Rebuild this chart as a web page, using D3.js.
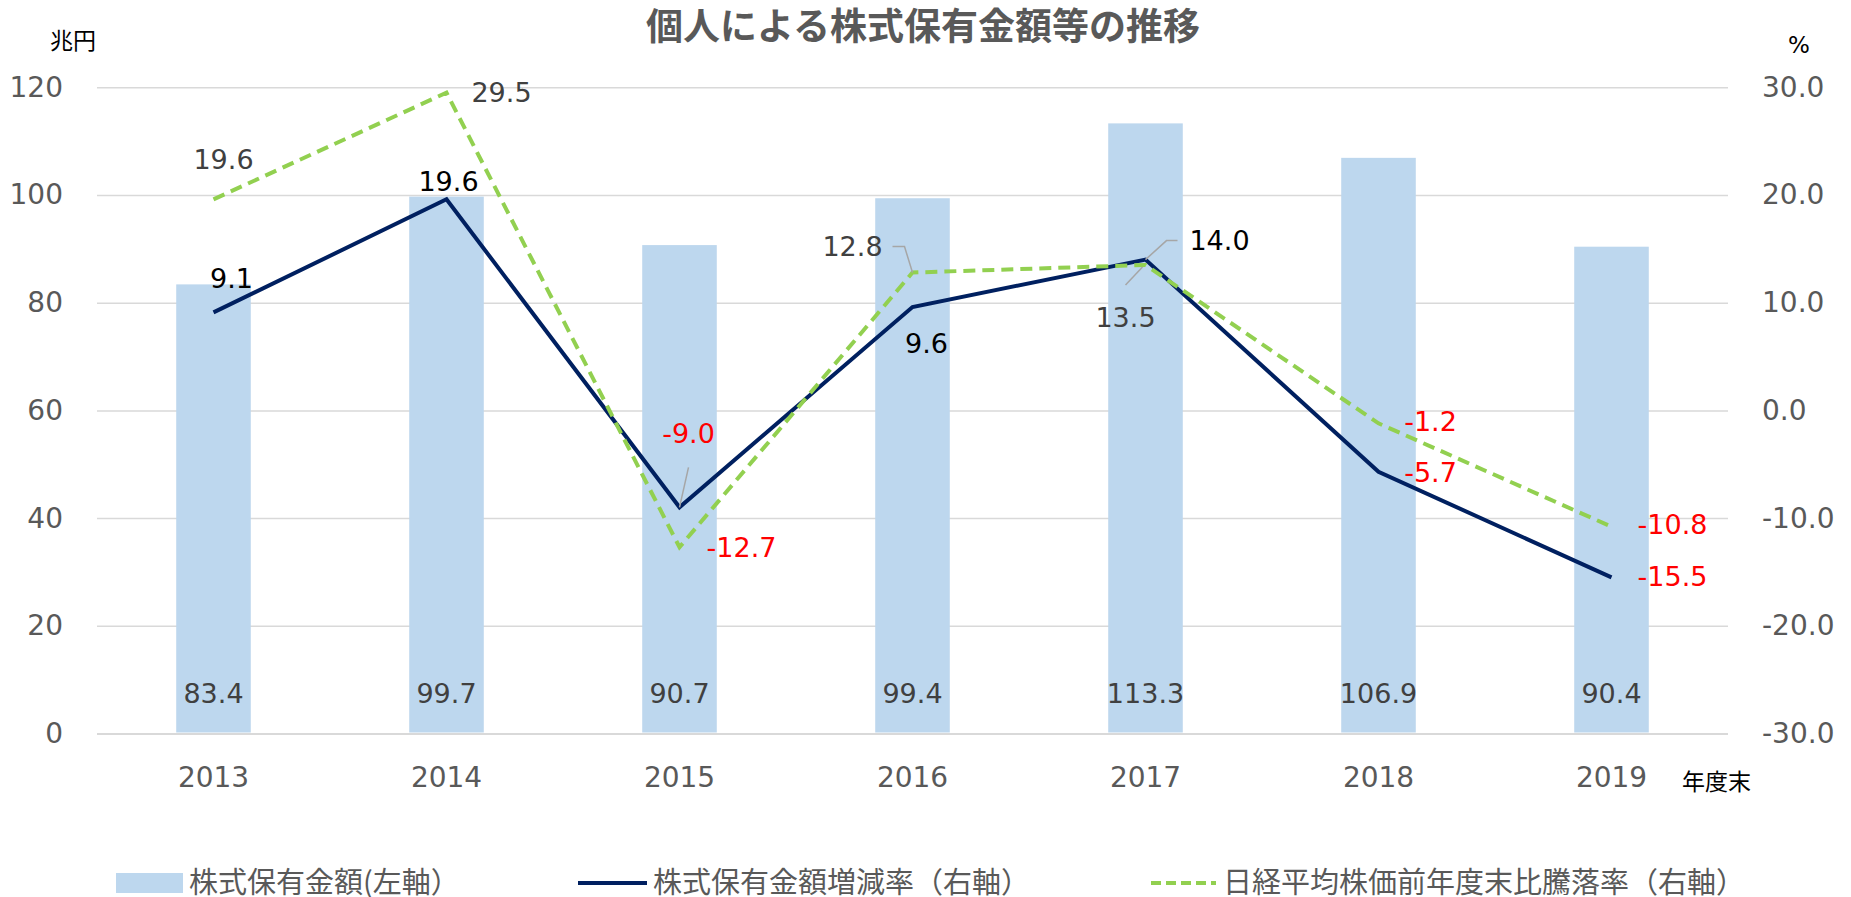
<!DOCTYPE html>
<html><head><meta charset="utf-8">
<script src="https://cdn.jsdelivr.net/npm/d3@7"></script>
<style>
html,body{margin:0;padding:0;background:#fff;}
svg{display:block;font-family:"DejaVu Sans","Noto Sans CJK JP",sans-serif;}
</style></head>
<body>
<svg id="chart" width="1851" height="897"></svg>
<script>
// ---- data ----
const years = ["2013","2014","2015","2016","2017","2018","2019"];
const holdings = [83.4, 99.7, 90.7, 99.4, 113.3, 106.9, 90.4];          // 株式保有金額 (兆円)
const holdingsGrowth = [9.1, 19.6, -9.0, 9.6, 14.0, -5.7, -15.5];       // 株式保有金額増減率 (%)
const nikkeiChange = [19.6, 29.5, -12.7, 12.8, 13.5, -1.2, -10.8];      // 日経平均株価前年度末比騰落率 (%)
const leftTicks = [0, 20, 40, 60, 80, 100, 120];
const rightTicks = [-30, -20, -10, 0, 10, 20, 30];
const seriesNames = ["株式保有金額(左軸）", "株式保有金額増減率（右軸）", "日経平均株価前年度末比騰落率（右軸）"];
const titleText = "個人による株式保有金額等の推移";

// ---- layout / label placement (not data) ----
const growthLabelOffsets = [[18,-34],[2,-18],[9,-74],[14,36],[74,-19],[52,0],[61,-1]];
const nikkeiLabelOffsets = [[10,-40],[55,0],[62,0],[-60,-26],[-20,52],[52,-2],[61,-2]];

const svg = d3.select("#chart");
const L = 97, R = 1728, T = 87.3, B = 733.5;

const x = d3.scaleBand().domain(years).range([L, R]).paddingInner(0.68).paddingOuter(0.34);
const yL = d3.scaleLinear().domain([0, 120]).range([B, T]);
const yR = d3.scaleLinear().domain([-30, 30]).range([B, T]);
const cx = d => x(d) + x.bandwidth() / 2;

// gridlines
const grid = svg.append("g").attr("transform", `translate(${L},0)`)
  .call(d3.axisLeft(yL).tickValues(leftTicks).tickSize(-(R - L)).tickFormat(""));
grid.select(".domain").remove();
grid.selectAll("line").attr("stroke", "#D9D9D9").attr("stroke-width", d => d === 0 ? 2 : 1.5);

// bars
svg.append("g").selectAll("rect").data(holdings).join("rect")
  .attr("x", (d, i) => x(years[i]))
  .attr("y", d => yL(d))
  .attr("width", x.bandwidth())
  .attr("height", d => B - yL(d) - 1)
  .attr("fill", "#BDD7EE");

// lines
const line = d3.line().x((d, i) => cx(years[i])).y(d => yR(d));
svg.append("path").datum(holdingsGrowth).attr("d", line)
  .attr("fill", "none").attr("stroke", "#002060").attr("stroke-width", 4).attr("stroke-linejoin", "miter");
svg.append("path").datum(nikkeiChange).attr("d", line)
  .attr("fill", "none").attr("stroke", "#92D050").attr("stroke-width", 4)
  .attr("stroke-dasharray", "12,7").attr("stroke-linejoin", "miter");

// axes
function styleAxis(g) {
  g.select(".domain").remove();
  g.attr("font-family", null).attr("font-size", null);
  g.selectAll("text").attr("fill", "#595959").attr("font-size", 28)
    .attr("font-family", '"DejaVu Sans", sans-serif');
}
const ax = svg.append("g").attr("transform", `translate(${L},0)`)
  .call(d3.axisLeft(yL).tickValues(leftTicks).tickSize(0).tickPadding(34));
styleAxis(ax);
const ar = svg.append("g").attr("transform", `translate(${R},0)`)
  .call(d3.axisRight(yR).tickValues(rightTicks).tickSize(0).tickPadding(34).tickFormat(d => d.toFixed(1)));
styleAxis(ar);
const axb = svg.append("g").attr("transform", `translate(0,${B})`)
  .call(d3.axisBottom(x).tickSize(0).tickPadding(34));
styleAxis(axb);

// bar labels
svg.append("g").selectAll("text").data(holdings).join("text")
  .attr("x", (d, i) => cx(years[i])).attr("y", B - 31)
  .attr("text-anchor", "middle").attr("font-size", 27).attr("fill", "#404040")
  .text(d => d.toFixed(1));

// leader lines
const leader = (pts) => svg.append("polyline").attr("points", pts.map(p => p.join(",")).join(" "))
  .attr("fill", "none").attr("stroke", "#A6A6A6").attr("stroke-width", 1.5);
{ const px = cx("2015"), py = yR(holdingsGrowth[2]); leader([[px + 9, py - 40], [px, py]]); }
{ const px = cx("2017"), py = yR(holdingsGrowth[4]); leader([[px, py], [px + 21, py - 19], [px + 32, py - 19]]); }
{ const px = cx("2016"), py = yR(nikkeiChange[3]); leader([[px - 20, py - 26], [px - 8, py - 26], [px, py]]); }
{ const px = cx("2017"), py = yR(nikkeiChange[4]); leader([[px - 20, py + 20], [px - 3, py + 2]]); }

// line labels
function lineLabels(vals, offs, posColor) {
  svg.append("g").selectAll("text").data(vals).join("text")
    .attr("x", (d, i) => cx(years[i]) + offs[i][0])
    .attr("y", (d, i) => yR(d) + offs[i][1])
    .attr("dy", "0.36em")
    .attr("text-anchor", "middle").attr("font-size", 27)
    .attr("fill", d => d < 0 ? "#FF0000" : posColor)
    .text(d => d.toFixed(1));
}
lineLabels(holdingsGrowth, growthLabelOffsets, "#000000");
lineLabels(nikkeiChange, nikkeiLabelOffsets, "#404040");

// title & units
svg.append("text").attr("x", 923).attr("y", 40).attr("text-anchor", "middle")
  .attr("font-family", '"Noto Sans CJK JP", sans-serif').attr("font-weight", "bold")
  .attr("font-size", 37).attr("fill", "#595959").text(titleText);
svg.append("text").attr("x", 73).attr("y", 41).attr("dy", "0.36em").attr("text-anchor", "middle")
  .attr("font-family", '"Noto Sans CJK JP", sans-serif').attr("font-size", 23).attr("fill", "#000").text("兆円");
svg.append("text").attr("x", 1799).attr("y", 45).attr("dy", "0.36em").attr("text-anchor", "middle")
  .attr("font-size", 23).attr("fill", "#000").text("%");
svg.append("text").attr("x", 1682).attr("y", 782).attr("dy", "0.36em").attr("text-anchor", "start")
  .attr("font-family", '"Noto Sans CJK JP", sans-serif').attr("font-size", 23).attr("fill", "#000").text("年度末");

// legend
const lg = svg.append("g").attr("font-family", '"Noto Sans CJK JP", sans-serif');
const ly = 883;
lg.append("rect").attr("x", 116).attr("y", ly - 10).attr("width", 67).attr("height", 20).attr("fill", "#BDD7EE");
lg.append("line").attr("x1", 578).attr("x2", 647).attr("y1", ly).attr("y2", ly).attr("stroke", "#002060").attr("stroke-width", 4);
lg.append("line").attr("x1", 1151).attr("x2", 1216).attr("y1", ly).attr("y2", ly).attr("stroke", "#92D050").attr("stroke-width", 4).attr("stroke-dasharray", "10,5");
const legendX = [189, 653, 1223];
lg.selectAll("text.lt").data(seriesNames).join("text").attr("class", "lt")
  .attr("x", (d, i) => legendX[i]).attr("y", ly + 10)
  .attr("font-size", 29).attr("fill", "#595959").text(d => d);
</script>
</body></html>
